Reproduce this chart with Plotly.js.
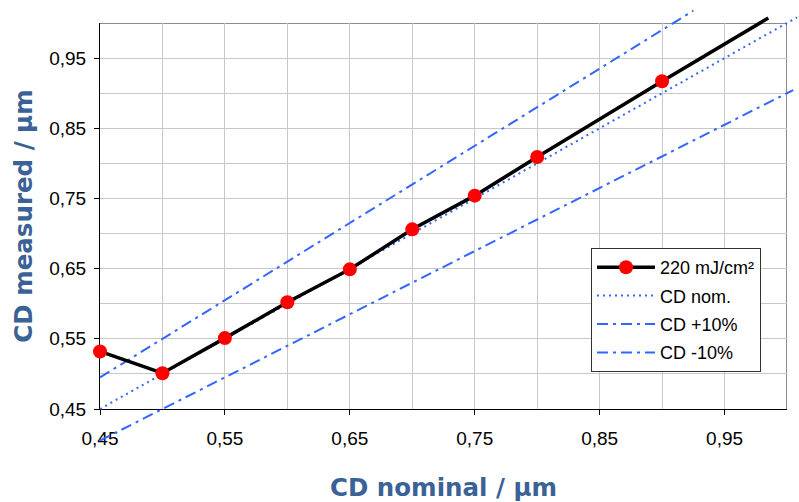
<!DOCTYPE html>
<html><head><meta charset="utf-8">
<script src="https://cdn.plot.ly/plotly-3.0.1.min.js"></script>
<style>html,body{margin:0;padding:0;background:#fff}#chart{width:799px;height:502px}</style>
</head><body><div id="chart"></div>
<script>
// ---- data ----
const nominalCD  = [0.45, 0.50, 0.55, 0.60, 0.65, 0.70, 0.75, 0.80, 0.90];
const measuredCD = [0.532, 0.501, 0.551, 0.602, 0.649, 0.706, 0.754, 0.809, 0.917];
const tailX = [0.90, 0.985];
const tailY = [0.917, 1.007];
const nomX   = [0.45, 1.008];
const nomY   = [0.45, 1.008];
const plusX  = [0.45, 0.925];
const plusY  = [0.495, 1.0175];
const minusX = [0.45, 1.005];
const minusY = [0.405, 0.9045];
const tickVals = [0.45, 0.55, 0.65, 0.75, 0.85, 0.95];
const tickText = ['0,45', '0,55', '0,65', '0,75', '0,85', '0,95'];
const gridVals = [0.50, 0.60, 0.70, 0.80, 0.90, 1.00];
const seriesNames = ['220 mJ/cm²', 'CD nom.', 'CD +10%', 'CD -10%'];

// ---- layout geometry (pixels) ----
const W = 799, H = 502;
const pL = 100, pR = 787, pT = 23, pB = 409;
const xr = [0.45, 1.0], yr = [0.45, 1.0];
const kx = (pR - pL) / (xr[1] - xr[0]);
const ky = (pB - pT) / (yr[1] - yr[0]);
const x2r = [xr[0] - pL / kx, xr[1] + (W - pR) / kx];
const y2r = [yr[0] - (H - pB) / ky, yr[1] + pT / ky];

const blue = '#3366ff';
const titleColor = '#3b6296';
const gridColor = '#c8c8c8';
const tickFont = {family: 'Liberation Sans, Arial, sans-serif', size: 19, color: '#000'};
const titleFont = {family: 'DejaVu Sans, Verdana, sans-serif', size: 24.5, color: titleColor, weight: 'bold'};

const traces = [
  // empty trace so the framed x/y subplot (axes, grid) is created
  {x: [], y: [], xaxis: 'x', yaxis: 'y', mode: 'lines', showlegend: false, hoverinfo: 'skip'},
  {x: nomX, y: nomY, xaxis: 'x2', yaxis: 'y2', mode: 'lines', name: seriesNames[1], legendrank: 2, legendgroup: 'b',
   line: {color: blue, width: 2, dash: '2px,4px'}},
  {x: plusX, y: plusY, xaxis: 'x2', yaxis: 'y2', mode: 'lines', name: seriesNames[2], legendrank: 3, legendgroup: 'c',
   line: {color: blue, width: 2, dash: '11px,5px,3px,5px'}},
  {x: minusX, y: minusY, xaxis: 'x2', yaxis: 'y2', mode: 'lines', name: seriesNames[3], legendrank: 4, legendgroup: 'd',
   line: {color: blue, width: 2, dash: '11px,5px,3px,5px'}},
  {x: tailX, y: tailY, xaxis: 'x2', yaxis: 'y2', mode: 'lines', showlegend: false,
   line: {color: '#000', width: 3.5}},
  {x: nominalCD, y: measuredCD, xaxis: 'x2', yaxis: 'y2', mode: 'lines+markers', name: seriesNames[0], legendrank: 1, legendgroup: 'a',
   line: {color: '#000', width: 3.5}, marker: {color: '#ff0000', size: 14}}
];

const axisCommon = {
  showline: true, linecolor: '#000', linewidth: 1,
  ticks: 'outside', ticklen: 5, tickcolor: '#000', tickwidth: 1,
  showgrid: true, gridcolor: gridColor, gridwidth: 1,
  zeroline: false, automargin: false, fixedrange: true,
  tickfont: tickFont,
  tickmode: 'array', tickvals: tickVals, ticktext: tickText,
  minor: {tickmode: 'array', tickvals: gridVals, showgrid: true, gridcolor: gridColor, gridwidth: 1, ticks: ''}
};

const layout = {
  width: W, height: H,
  margin: {l: 0, r: 0, t: 0, b: 0},
  paper_bgcolor: '#fff', plot_bgcolor: 'rgba(0,0,0,0)',
  showlegend: true,
  xaxis: Object.assign({}, axisCommon, {
    domain: [pL / W, pR / W], range: xr, anchor: 'y', ticklabelstandoff: 7,
    title: {text: 'CD nominal / µm', font: titleFont, standoff: 32}
  }),
  yaxis: Object.assign({}, axisCommon, {
    domain: [(H - pB) / H, (H - pT) / H], range: yr, anchor: 'x', ticklabelstandoff: 4,
    title: {text: 'CD measured / µm', font: titleFont, standoff: 9}
  }),
  xaxis2: {domain: [0, 1], range: x2r, anchor: 'y2', visible: false, fixedrange: true},
  yaxis2: {domain: [0, 1], range: y2r, anchor: 'x2', visible: false, fixedrange: true},
  shapes: [
    {type: 'line', xref: 'x', yref: 'y', x0: xr[0], x1: xr[1], y0: yr[1], y1: yr[1], layer: 'below',
     line: {color: '#666', width: 1.5}},
    {type: 'line', xref: 'x', yref: 'y', x0: xr[1], x1: xr[1], y0: yr[0], y1: yr[1], layer: 'below',
     line: {color: '#666', width: 1.5}}
  ],
  legend: {
    x: 591 / W, y: (H - 248) / H, xanchor: 'left', yanchor: 'top',
    bgcolor: '#fff', bordercolor: '#333', borderwidth: 1,
    font: {family: 'Liberation Sans, Arial, sans-serif', size: 18, color: '#000'},
    itemwidth: 58, traceorder: 'grouped', tracegroupgap: 2
  }
};

Plotly.newPlot('chart', traces, layout, {displayModeBar: false, staticPlot: true});
</script>
</body></html>
